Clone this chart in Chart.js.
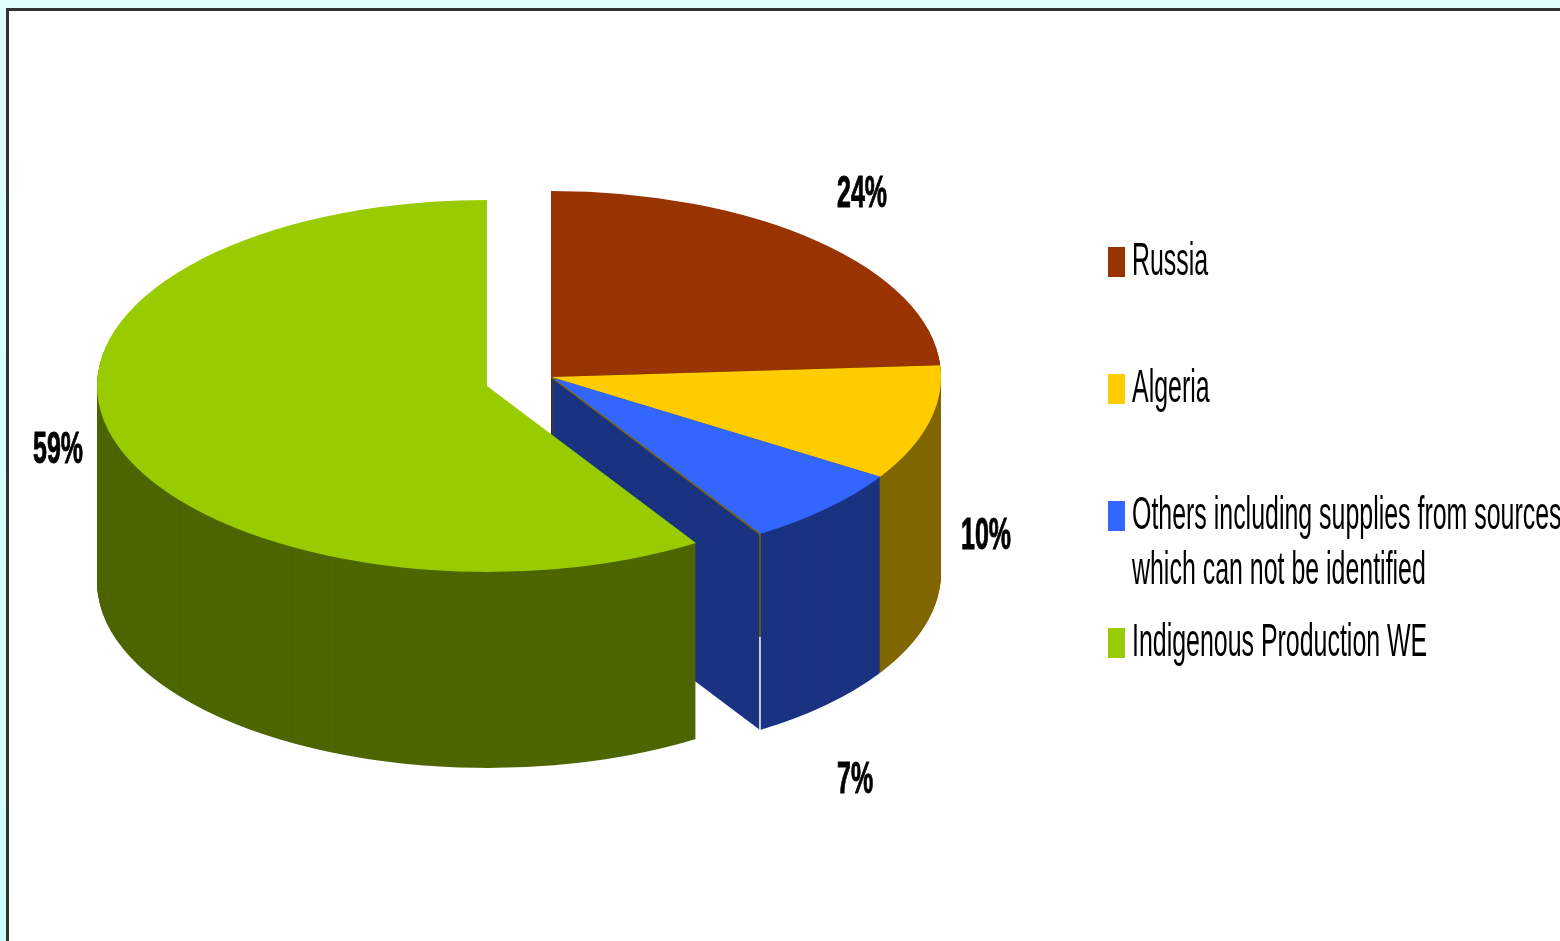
<!DOCTYPE html>
<html>
<head>
<meta charset="utf-8">
<title>Gas supply shares</title>
<style>
  html, body { margin: 0; height: 100%; overflow: hidden; background: linear-gradient(#e0ffff, #ccffff); }
  #panel { position: absolute; left: 6px; top: 8px; width: 1600px; height: 1000px; background: #fff; border: 3px solid #333; }
  #pieChart { position: absolute; left: 0; top: 0; }
</style>
<script src="https://cdn.jsdelivr.net/npm/chart.js@4"></script>
</head>
<body>
<div id="panel"></div>
<canvas id="pieChart" width="1560" height="941"></canvas>
<script>
const categories = ['Russia', 'Algeria', 'Others including supplies from sources\nwhich can not be identified', 'Indigenous Production WE'];
const shares = [24, 10, 7, 59];
const topColors = ['#993300', '#FFCC00', '#3366FF', '#99CC00'];
const sideColors = ['#4D1A00', '#806600', '#1A3380', '#4D6600'];
const explode = [0, 0, 0, 67];

// pie is flattened to an ellipse and extruded downwards
const TILT = 186 / 390;
const DEPTH = 196;
const FONT = '"Liberation Sans", Arial, sans-serif';

// hand placed text anchors, same order as categories
const pctX = [837, 961, 837, 33];
const pctY = [207, 549, 793, 463];
const legendTop = [247, 374, 501, 628];

function tilt(ctx, cy, drop) {
  ctx.translate(0, cy + drop);
  ctx.scale(1, TILT);
  ctx.translate(0, -cy);
}

function narrowText(ctx, text, x, y, squeeze, heavy) {
  ctx.save();
  ctx.translate(x, y);
  ctx.scale(squeeze, 1);
  ctx.fillText(text, 0, 0);
  if (heavy) {
    ctx.lineWidth = heavy;
    ctx.strokeText(text, 0, 0);
  }
  ctx.restore();
}

const pie3d = {
  id: 'pie3d',
  afterDatasetsUpdate(chart) {
    chart.getDatasetMeta(0).data.forEach((arc, i) => {
      const mid = (arc.startAngle + arc.endAngle) / 2;
      arc.x = Math.round(arc.x + Math.cos(mid) * explode[i]);
      arc.y += Math.sin(mid) * explode[i];
    });
  },
  beforeDatasetDraw(chart) {
    const ctx = chart.ctx;
    const cy = (chart.chartArea.top + chart.chartArea.bottom) / 2;

    // side walls, one layer per pixel of depth
    chart.getDatasetMeta(0).data.forEach((arc, i) => {
      ctx.fillStyle = sideColors[i];
      for (let d = DEPTH; d > 0; d--) {
        ctx.save();
        tilt(ctx, cy, d);
        ctx.beginPath();
        ctx.moveTo(arc.x, arc.y);
        ctx.arc(arc.x, arc.y, arc.outerRadius, arc.startAngle, arc.endAngle);
        ctx.closePath();
        ctx.fill();
        ctx.restore();
      }
    });

    ctx.save();
    tilt(ctx, cy, 0);
  },
  afterDatasetDraw(chart) {
    const ctx = chart.ctx;
    ctx.restore();

    // seam on the cut face of the third slice
    const cy = (chart.chartArea.top + chart.chartArea.bottom) / 2;
    const arc = chart.getDatasetMeta(0).data[2];
    const rimX = arc.x + Math.cos(arc.endAngle) * arc.outerRadius;
    const rimY = cy + Math.sin(arc.endAngle) * arc.outerRadius * TILT;
    ctx.lineWidth = 1.5;
    ctx.strokeStyle = sideColors[1];
    ctx.beginPath();
    ctx.moveTo(arc.x, cy);
    ctx.lineTo(rimX, rimY);
    ctx.lineTo(rimX, rimY + 103);
    ctx.stroke();
    ctx.strokeStyle = '#fff';
    ctx.beginPath();
    ctx.moveTo(rimX, rimY + 103);
    ctx.lineTo(rimX, rimY + DEPTH);
    ctx.stroke();
  },
  afterDraw(chart) {
    const ctx = chart.ctx;
    ctx.save();
    ctx.fillStyle = '#000';
    ctx.strokeStyle = '#000';
    ctx.textBaseline = 'alphabetic';

    ctx.font = 'bold 45px ' + FONT;
    shares.forEach((v, i) => narrowText(ctx, v + '%', pctX[i], pctY[i], 0.555, 1));

    ctx.font = '46px ' + FONT;
    categories.forEach((label, i) => {
      ctx.fillStyle = topColors[i];
      ctx.fillRect(1108, legendTop[i], 17, 30);
      ctx.fillStyle = '#000';
      label.split('\n').forEach((line, n) => {
        narrowText(ctx, line, 1132, legendTop[i] + 28 + n * 55, 0.542);
      });
    });
    ctx.restore();
  }
};

new Chart(document.getElementById('pieChart'), {
  type: 'pie',
  data: {
    labels: categories,
    datasets: [{
      data: shares,
      backgroundColor: topColors,
      borderWidth: 0,
      clip: false
    }]
  },
  options: {
    responsive: false,
    animation: false,
    radius: 390,
    layout: { padding: { left: 0, right: 458, top: 0, bottom: 187 } },
    plugins: { legend: { display: false }, tooltip: { enabled: false } }
  },
  plugins: [pie3d]
});
</script>
</body>
</html>
